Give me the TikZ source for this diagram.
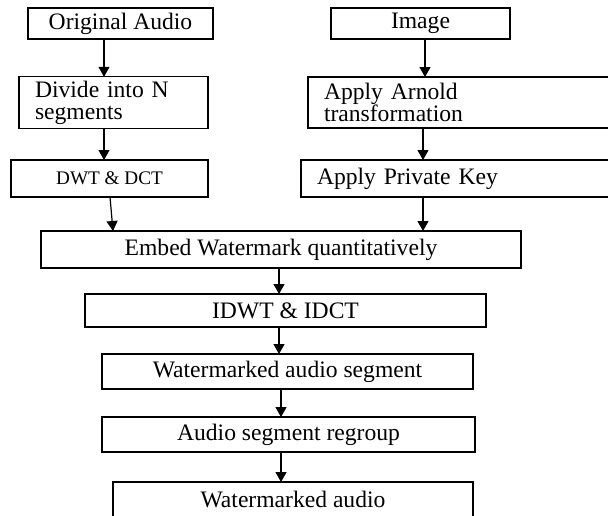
\documentclass[tikz,border=0pt]{standalone}
\usepackage{fontspec}
\setmainfont{Liberation Serif}
\usepackage{tikz}
\usetikzlibrary{arrows.meta}

\tikzset{
  box/.style={draw, line width=0.7pt, inner sep=2pt, outer sep=0pt,
    font=\fontsize{11.8}{11}\selectfont},
  leftbox/.style={box, align=left, inner xsep=8pt},
  arr/.style={-{Triangle[length=5pt,width=5.5pt]}, line width=0.6pt}
}

\begin{document}
\begin{tikzpicture}[x=0.5pt, y=-0.5pt]
\useasboundingbox (0,0) rectangle (608,515);
\clip (0,0) rectangle (608,515);

% Audio branch
\node (orig) [box, minimum width=92.5pt, minimum height=15.5pt] at (120.5,23.5) {Original Audio};
\node (divide) [leftbox, text width=78.5pt, minimum height=25.5pt] at (113.5,102.5) {Divide into N\\segments};
\node (dwt) [box, minimum width=98.5pt, minimum height=18.5pt, font=\fontsize{9.6}{10}\selectfont] at (109.5,178.5) {DWT \& DCT};

% Image branch
\node (image) [box, minimum width=89.5pt, minimum height=15.5pt] at (420.5,23.5) {Image};
\node (arnold) [leftbox, text width=140pt, minimum height=25.5pt] at (464,102.5) {Apply Arnold\\transformation};
\node (key) [leftbox, text width=143.5pt, minimum height=18.5pt] at (460.5,178.5) {Apply Private Key};

% Common part
\node (embed) [box, minimum width=240pt, minimum height=18.5pt] at (281,249.5) {Embed Watermark quantitatively};
\node (idwt) [box, minimum width=200.5pt, minimum height=16.5pt] at (285.5,310.5) {IDWT \& IDCT};
\node (wseg) [box, minimum width=185.5pt, minimum height=17.5pt] at (287.5,371.5) {Watermarked audio segment};
\node (regroup) [box, minimum width=186.5pt, minimum height=17.5pt] at (288.5,434.5) {Audio segment regroup};
\node (wa) [box, minimum width=180pt, minimum height=17.5pt] at (293,499.5) {Watermarked audio};

% Arrows
\draw[arr] (104,0 |- orig.south) -- (104,0 |- divide.north);
\draw[arr] (104,0 |- divide.south) -- (104,0 |- dwt.north);
\draw[arr] (110,0 |- dwt.south) -- (113,0 |- embed.north);
\draw[arr] (425,0 |- image.south) -- (425,0 |- arnold.north);
\draw[arr] (423,0 |- arnold.south) -- (423,0 |- key.north);
\draw[arr] (423,0 |- key.south) -- (423,0 |- embed.north);
\draw[arr] (279,0 |- embed.south) -- (279,0 |- idwt.north);
\draw[arr] (279,0 |- idwt.south) -- (279,0 |- wseg.north);
\draw[arr] (281,0 |- wseg.south) -- (281,0 |- regroup.north);
\draw[arr] (281,0 |- regroup.south) -- (281,0 |- wa.north);
\end{tikzpicture}
\end{document}
